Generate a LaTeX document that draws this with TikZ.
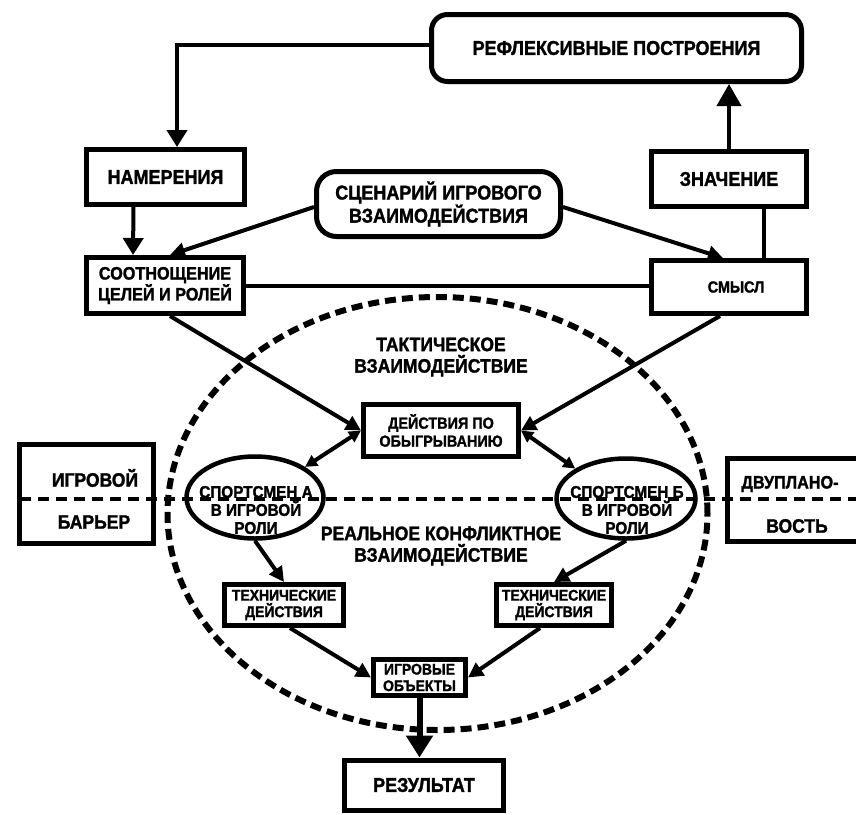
\documentclass[tikz,border=0pt]{standalone}
\usepackage{fontspec}
\setmainfont{Liberation Sans}
\newfontfamily\dfont{Liberation Sans}[FakeStretch=0.9, BoldFeatures={FakeBold=1.5}]
\usetikzlibrary{arrows.meta,shapes.geometric}
\newcommand{\fsz}[2]{\fontsize{#1pt}{#2pt}\selectfont}
\begin{document}
\begin{tikzpicture}[x=1pt,y=-1pt,
  box/.style={draw, line width=5pt, rectangle, align=center, inner sep=0pt},
  rbox/.style={box, rounded corners=16pt},
  oval/.style={draw, line width=4.5pt, ellipse, inner sep=0pt},
  txt/.style={align=center, inner sep=0pt},
  fA/.style={font={\dfont\bfseries\fsz{20}{22}}},
  fT/.style={font={\dfont\bfseries\fsz{19.5}{21.5}}},
  fB/.style={font={\dfont\bfseries\fsz{18}{19}}},
  fS/.style={font={\dfont\bfseries\fsz{16}{18}}},
  fC/.style={font={\dfont\bfseries\fsz{17}{18}}},
  fD/.style={font={\dfont\bfseries\fsz{15.5}{16.5}}},
  conn/.style={line width=4pt},
  arr/.style={conn, -{Triangle[length=17pt,width=20pt]}},
  arrs/.style={conn, -{Triangle[length=15pt,width=15pt]}},
  darr/.style={conn, {Triangle[length=12pt,width=12pt]}-{Triangle[length=12pt,width=12pt]}},
  bigarr/.style={line width=6pt, -{Triangle[length=22pt,width=26pt]}},
  hdash/.style={line width=3.2pt, dash pattern=on 11pt off 7pt},
  edash/.style={line width=6pt, dash pattern=on 11pt off 6pt}]
\useasboundingbox (0,0) rectangle (856,814);
\clip (0,0) rectangle (856,814);

% dashed horizontal line and dashed region
\coordinate (hl) at (20,499);
\coordinate (hr) at (870,499);
\draw[hdash] (hl) -- (hr);
\draw[edash] (437.5,513.5) ellipse [x radius=270pt, y radius=216.5pt];

% nodes
\node[rbox, fA, minimum width=370pt, minimum height=67pt] (refl) at (616.5,48) {РЕФЛЕКСИВНЫЕ ПОСТРОЕНИЯ};
\node[box, fA, minimum width=158pt, minimum height=55pt] (nam) at (165.5,177) {НАМЕРЕНИЯ};
\node[box, fB, minimum width=157pt, minimum height=56pt] (sootn) at (165,285.5) {СООТНОЩЕНИЕ\\ЦЕЛЕЙ И РОЛЕЙ};
\node[rbox, fA, minimum width=244pt, minimum height=65pt, rounded corners=20pt] (scen) at (438.5,204) {СЦЕНАРИЙ ИГРОВОГО\\ВЗАИМОДЕЙСТВИЯ};
\node[box, fA, minimum width=155pt, minimum height=55pt] (znach) at (729,179) {ЗНАЧЕНИЕ};
\node[box, minimum width=155pt, minimum height=53pt] (smysl) at (729,287) {};
\node[txt, fS] (smyslt) at (736,287) {СМЫСЛ};
\node[txt, fT] (tak) at (441,357) {ТАКТИЧЕСКОЕ\\ВЗАИМОДЕЙСТВИЕ};
\node[box, fS, minimum width=155pt, minimum height=52pt] (deistv) at (441,430.5) {ДЕЙСТВИЯ ПО\\ОБЫГРЫВАНИЮ};

\node[box, minimum width=134pt, minimum height=99pt] (igr) at (86.5,494) {};
\node[txt, fT] (igr1) at (95,478) {ИГРОВОЙ};
\node[txt, fT] (igr2) at (94,522) {БАРЬЕР};
\node[box, minimum width=170pt, minimum height=83pt] (dvu) at (812,500) {};
\node[txt, fB] (dvu1) at (790,484) {ДВУПЛАНО-};
\node[txt, fT] (dvu2) at (797,526) {ВОСТЬ};

\node[oval, minimum width=137pt, minimum height=82pt] (ellA) at (255,497.5) {};
\node[txt, fC] (ellAt) at (256,510) {СПОРТСМЕН А\\В ИГРОВОЙ\\РОЛИ};
\node[oval, minimum width=139pt, minimum height=80pt] (ellB) at (626,498.5) {};
\node[txt, fC] (ellBt) at (627,510) {СПОРТСМЕН Б\\В ИГРОВОЙ\\РОЛИ};

\node[txt, fT] (real) at (441,546) {РЕАЛЬНОЕ КОНФЛИКТНОЕ\\ВЗАИМОДЕЙСТВИЕ};

\node[box, fD, minimum width=119pt, minimum height=41pt] (technL) at (284,605) {ТЕХНИЧЕСКИЕ\\ДЕЙСТВИЯ};
\node[box, fD, minimum width=115pt, minimum height=41pt] (technR) at (554,605) {ТЕХНИЧЕСКИЕ\\ДЕЙСТВИЯ};
\node[box, fD, minimum width=92pt, minimum height=36pt] (obj) at (419.5,677.5) {ИГРОВЫЕ\\ОБЪЕКТЫ};
\node[box, fA, minimum width=159pt, minimum height=50pt] (rez) at (424,785) {РЕЗУЛЬТАТ};

% connectors
\draw[arr] ([yshift=3pt]refl.west) -| ([xshift=11.5pt]nam.north);
\draw[arr] ([xshift=-32pt]nam.south) -- ([xshift=-32pt]sootn.north);
\draw[arrs] ([yshift=-3pt]scen.west) -- ([xshift=5pt]sootn.north);
\draw[arrs] ([yshift=-3pt]scen.east) -- ([xshift=-6pt]smysl.north);
\draw[arr, -{Triangle[length=22pt,width=24pt]}] (znach.north) -- (znach.north |- refl.south);
\draw[conn] ([xshift=35pt]smysl.north) -- ([xshift=35pt]znach.south);
\draw[conn] (sootn.east) -- (sootn.east -| smysl.west);
\draw[arrs] ([xshift=5pt]sootn.south) -- (deistv.west);
\draw[arrs] ([xshift=-9pt]smysl.south) -- (deistv.east);
\draw[darr] (deistv.west) -- (ellA.north east);
\draw[darr] (deistv.east) -- (ellB.north west);
\draw[arrs] (ellA.south) -- (technL.north);
\draw[arrs] (ellB.south) -- (technR.north);
\draw[arrs] ([xshift=6pt]technL.south) -- (obj.west);
\draw[arrs] ([xshift=-14pt]technR.south) -- (obj.east);
\draw[bigarr] (obj.south) -- (obj.south |- rez.north);
\end{tikzpicture}
\end{document}
